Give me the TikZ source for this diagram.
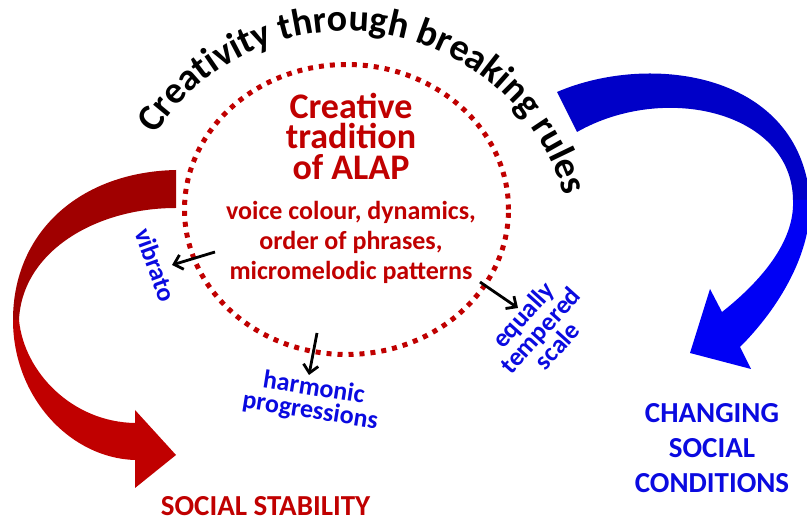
\documentclass[tikz,border=0pt]{standalone}
\usepackage{fontspec}
\setmainfont{Carlito}
\usetikzlibrary{arrows.meta,decorations.text}
\definecolor{alapred}{HTML}{C00000}
\definecolor{alapdark}{HTML}{A00000}
\definecolor{alapblue}{HTML}{0A0AE0}
\definecolor{bluedeep}{HTML}{0000C8}
\definecolor{bluebright}{HTML}{0000F5}
\begin{document}
\begin{tikzpicture}[x=1pt,y=1pt,
  heading/.style={inner sep=0pt, align=center, text=alapred,
    font=\bfseries\fontsize{36}{30.5}\selectfont},
  traits/.style={inner sep=0pt, align=center, text=alapred,
    font=\bfseries\fontsize{26}{30}\selectfont},
  bluelabel/.style={inner sep=0pt, align=center, text=alapblue,
    font=\bfseries\fontsize{26}{23}\selectfont},
  outcome/.style={inner sep=0pt, align=center,
    font=\bfseries\fontsize{29}{35}\selectfont},
  pointer/.style={line width=2.8pt, -{Straight Barb[length=8pt,width=15pt]}},
  dotring/.style={draw=alapred, line width=5pt, dash pattern=on 5pt off 6pt}]
\useasboundingbox (0,0) rectangle (807,522);
\clip (0,0) rectangle (807,522);

% red ribbon arrow (left)
\fill[alapdark] (176,352) .. controls (80,350) and (13,290) .. (13,202)
  -- (19,202) .. controls (22,270) and (95,314) .. (176,314) -- cycle;
\fill[alapred] (13,202) .. controls (13,125) and (70,64) .. (135,62)
  -- (135,34) -- (176,67) -- (135,112) -- (135,99)
  .. controls (72,100) and (24,150) .. (19,202) -- cycle;

% blue ribbon arrow (right)
\fill[bluedeep] (557,430) .. controls (650,470) and (800,450) .. (810,322)
  -- (793,322) .. controls (792,410) and (665,440) .. (577,390) -- cycle;
\fill[bluebright] (810,322) .. controls (812,270) and (780,215) .. (740,175)
  -- (751,153) -- (690,169) -- (710,233) -- (722,210)
  .. controls (760,240) and (795,280) .. (793,322) -- cycle;

% dotted ring
\draw[dotring] (346.5,312.5) ellipse[x radius=162, y radius=145];

% arched title
\path[decorate, decoration={text along path, text align=center,
  text={|\bfseries\fontsize{38}{38}\selectfont|Creativity through breaking rules}}]
  (346,264) ++(152:227) arc[start angle=152, end angle=11, radius=227];

% centre texts
\node[heading] (tradition) at (351,386) {Creative\\tradition\\of ALAP};
\node[traits] (features) at (351,280) {voice colour, dynamics,\\order of phrases,\\micromelodic patterns};

% broken rules
\node[bluelabel, rotate=-70] (vibrato) at (156,257) {vibrato};
\node[bluelabel, rotate=-9] (harmonic) at (312,122) {harmonic\\progressions};
\node[bluelabel, rotate=48] (tempered) at (540,192) {equally\\tempered\\scale};

\coordinate (vibfrom) at (215,270);
\coordinate (vibto) at (172,257);
\coordinate (harfrom) at (317,189);
\coordinate (harto) at (309,147);
\coordinate (temfrom) at (480,240);
\coordinate (temto) at (518,214);
\draw[pointer] (vibfrom) -- (vibto);
\draw[pointer] (harfrom) -- (harto);
\draw[pointer] (temfrom) -- (temto);

% outcomes
\node[outcome, text=alapred, anchor=base] (stability) at (265.5,6) {SOCIAL STABILITY};
\node[outcome, text=alapblue] (changing) at (712,73.5) {CHANGING\\SOCIAL\\CONDITIONS};
\end{tikzpicture}
\end{document}
